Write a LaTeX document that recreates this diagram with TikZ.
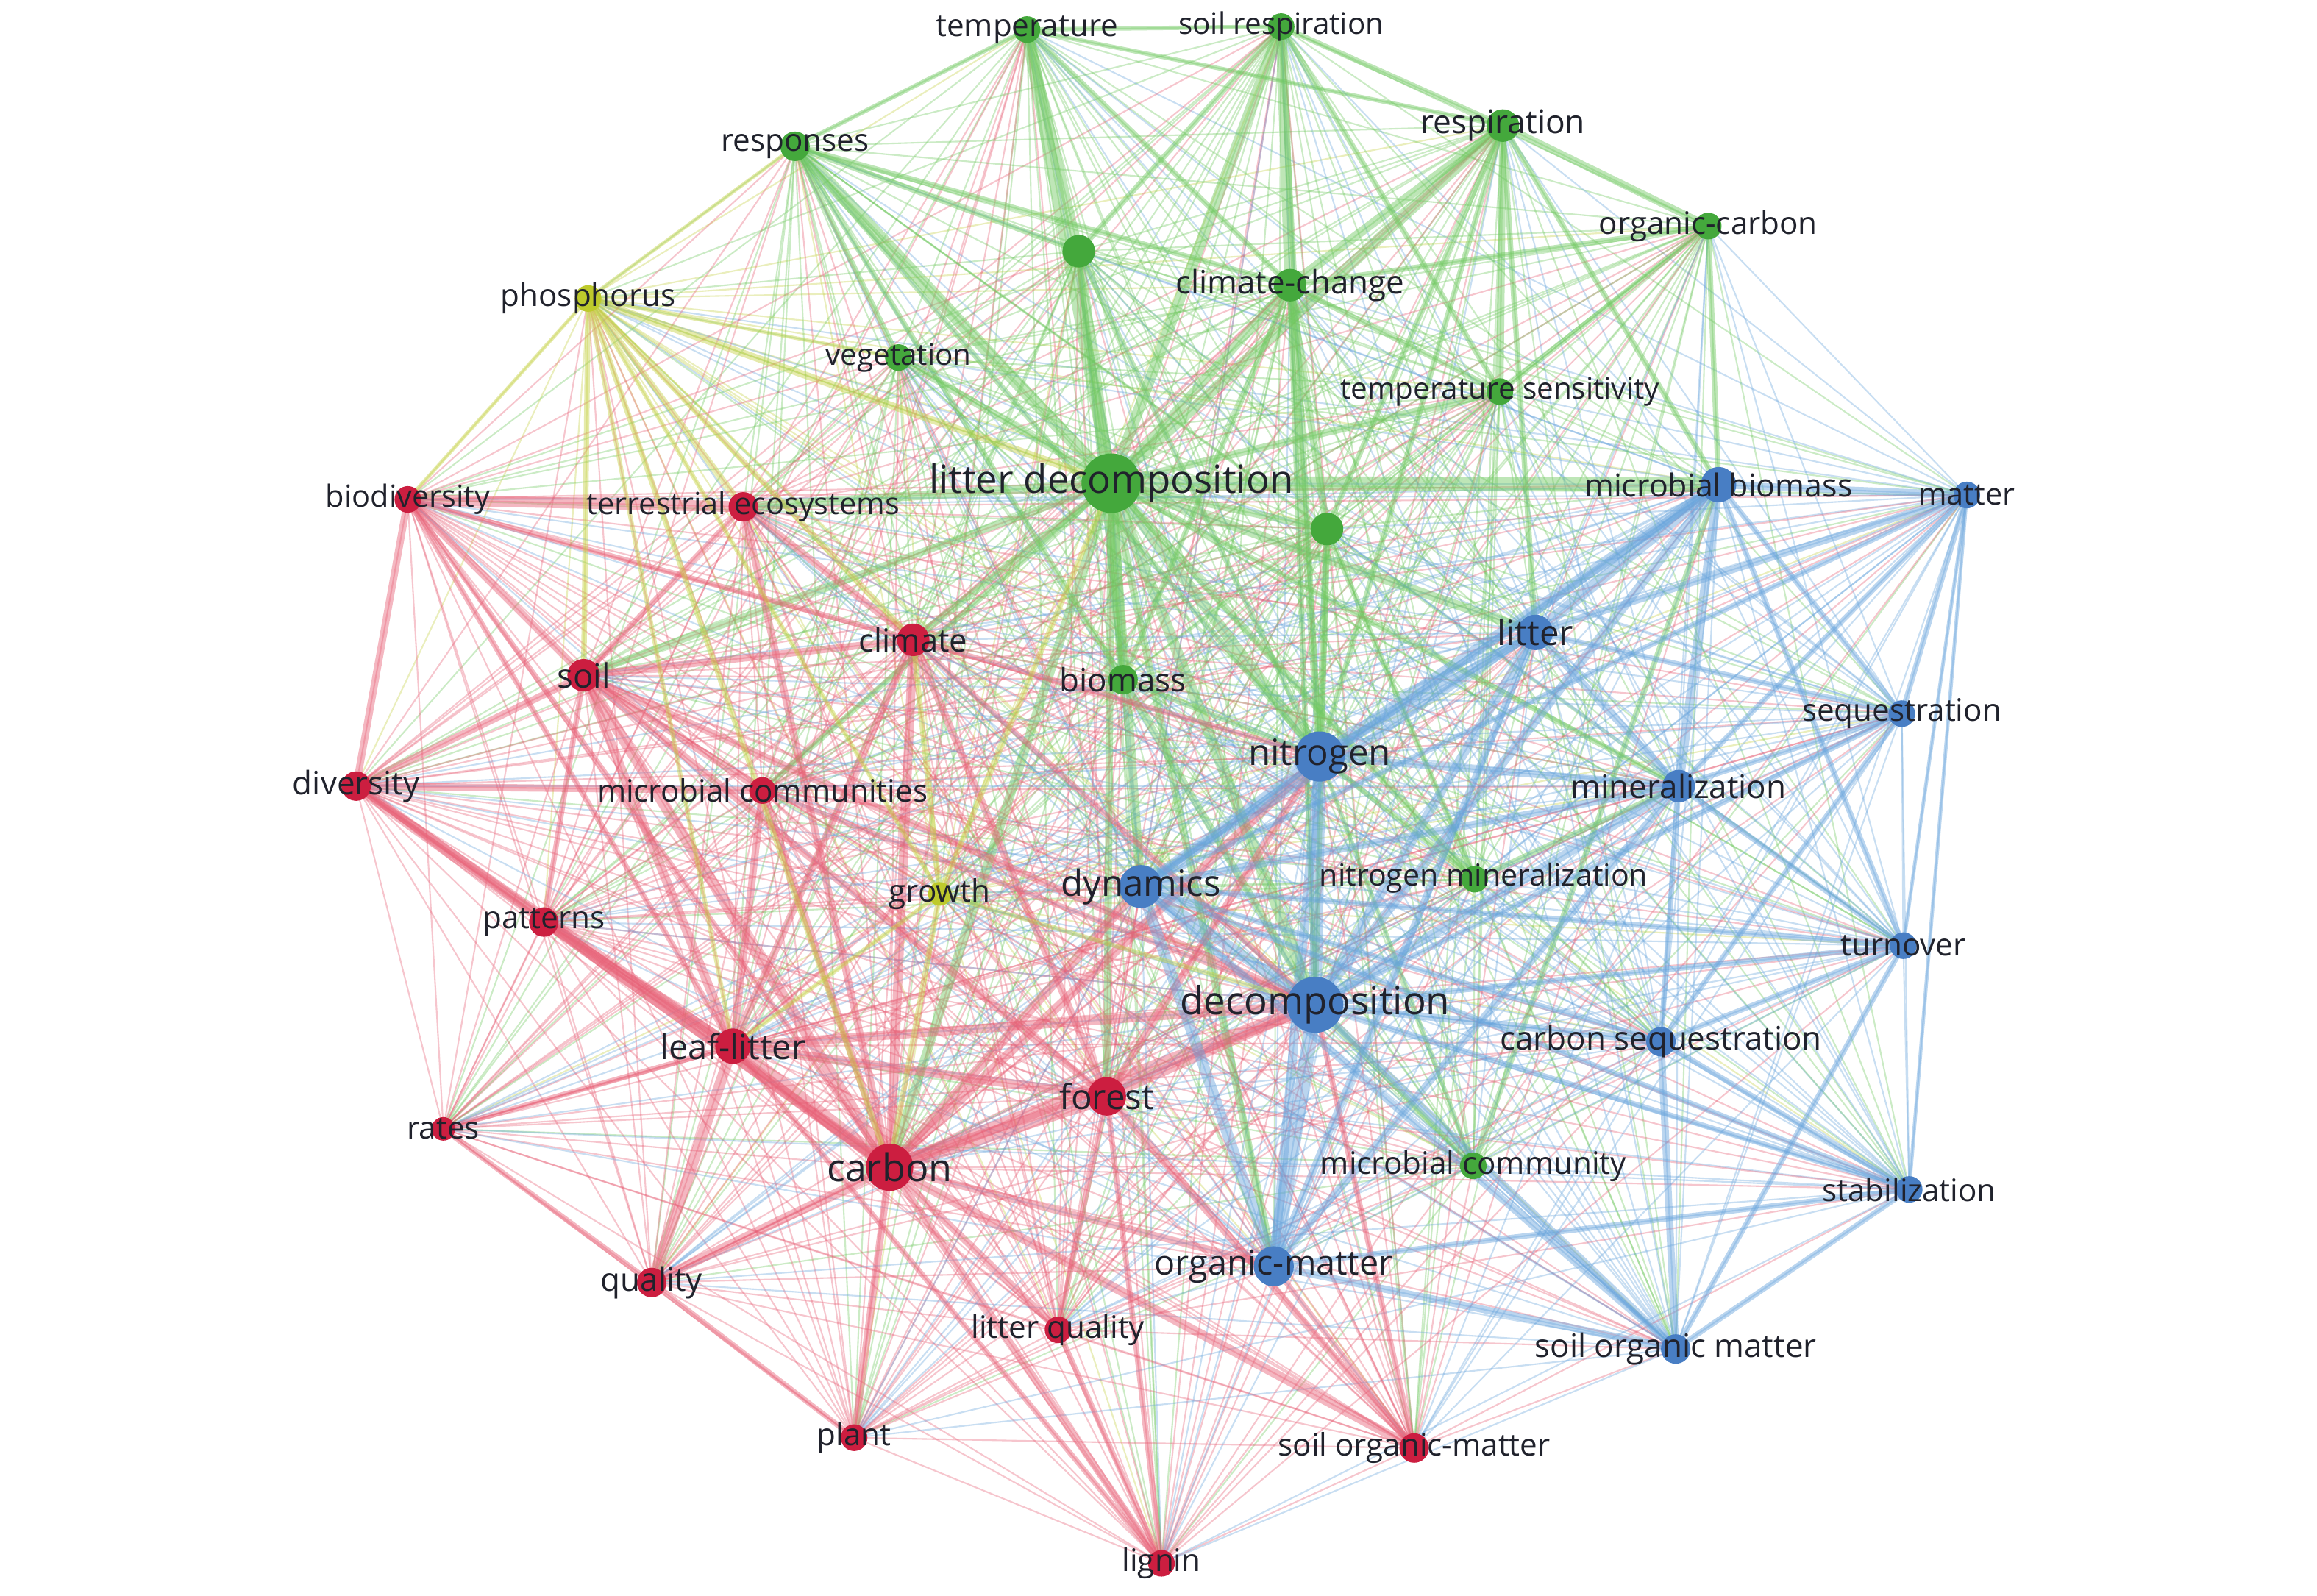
\documentclass[tikz,border=0pt]{standalone}
\usepackage{fontspec}
\setmainfont{Open Sans}
\pgfdeclarelayer{back}
\pgfdeclarelayer{edges}
\pgfsetlayers{back,edges,main}
\definecolor{gN}{RGB}{68,168,60}
\definecolor{gE}{RGB}{112,200,96}
\definecolor{rN}{RGB}{204,30,64}
\definecolor{rE}{RGB}{232,96,118}
\definecolor{bN}{RGB}{72,126,196}
\definecolor{bE}{RGB}{104,164,220}
\definecolor{yN}{RGB}{190,202,44}
\definecolor{yE}{RGB}{198,210,70}
\definecolor{txt}{RGB}{32,34,44}
\tikzset{
  kw/.style={circle, inner sep=0pt, fill=#1},
  lbl/.style={inner sep=0pt, text=txt, anchor=center},
  faint/.style={line width=0.6pt, opacity=0.36},
  strong/.style={opacity=0.45, line cap=round}
}
\newcommand\kwnode[7]{%
  \node[kw=#4, minimum size=#5pt] (#1) at (#2,#3) {};
  \node[lbl, font=\fontsize{#6}{#6}\selectfont] (#1-l) at (#1) {#7};}
\begin{document}
\begin{tikzpicture}[x=0.2009mm, y=-0.2009mm]
\useasboundingbox (0,0) rectangle (1568,1080);
\begin{pgfonlayer}{back}
\fill[white] (0,0) rectangle (1568,1080);
\end{pgfonlayer}
% ---- nodes ----
% green
\kwnode{temp}{695}{20}{gN}{10.3}{12}{temperature}
\kwnode{soilresp}{867}{18}{gN}{10.3}{11.5}{soil respiration}
\kwnode{resp}{1017}{85}{gN}{12.6}{12.6}{respiration}
\kwnode{respon}{538}{99}{gN}{11.4}{12}{responses}
\kwnode{orgc}{1156}{153}{gN}{10.3}{12}{organic-carbon}
\node[kw=gN, minimum size=12.6pt] (g1) at (730,170) {};
\kwnode{climch}{873}{193}{gN}{12.6}{12.5}{climate-change}
\kwnode{veg}{608}{242}{gN}{10.3}{11.5}{vegetation}
\kwnode{tempsens}{1015}{265}{gN}{10.3}{11.5}{temperature sensitivity}
\kwnode{litdec}{752}{327}{gN}{23}{15}{litter decomposition}
\node[kw=gN, minimum size=12.6pt] (g2) at (898,358) {};
\kwnode{biomass}{760}{460}{gN}{11.4}{12.5}{biomass}
\node[kw=gN, minimum size=10.3pt] (nmin) at (998,595) {};
\node[lbl, font=\fontsize{11.7}{11.7}\selectfont] (nmin-l) at (1004,594) {nitrogen mineralization};
\kwnode{mcy}{997}{789}{gN}{10.3}{12}{microbial community}
% yellow
\kwnode{phos}{398}{202}{yN}{10.3}{12}{phosphorus}
\kwnode{growth}{636}{605}{yN}{9.1}{12}{growth}
% red
\kwnode{biodiv}{276}{338}{rN}{10.3}{11.8}{biodiversity}
\kwnode{terr}{503}{343}{rN}{11.4}{11.8}{terrestrial ecosystems}
\kwnode{soil}{395}{457}{rN}{12.6}{13}{soil}
\kwnode{climate}{618}{433}{rN}{12.6}{12.4}{climate}
\kwnode{divers}{241}{532}{rN}{11.4}{12.5}{diversity}
\kwnode{microcomm}{516}{535}{rN}{10.3}{12}{microbial communities}
\kwnode{patterns}{368}{624}{rN}{11.4}{12}{patterns}
\kwnode{leaflit}{496}{708}{rN}{13.7}{13.4}{leaf-litter}
\kwnode{forest}{749}{742}{rN}{14.9}{13.5}{forest}
\kwnode{rates}{300}{764}{rN}{9.1}{12}{rates}
\kwnode{carbon}{602}{790}{rN}{18.3}{14.8}{carbon}
\kwnode{quality}{441}{868}{rN}{11.4}{12.5}{quality}
\kwnode{litqual}{716}{900}{rN}{10.3}{12}{litter quality}
\kwnode{plant}{578}{973}{rN}{10.3}{12}{plant}
\kwnode{som2}{957}{980}{rN}{11.4}{12}{soil organic-matter}
\kwnode{lignin}{786}{1058}{rN}{10.3}{12}{lignin}
% blue
\kwnode{mbio}{1163}{328}{bN}{13.7}{12.2}{microbial biomass}
\kwnode{matter}{1331}{335}{bN}{10.3}{11.8}{matter}
\kwnode{litter}{1039}{428}{bN}{13.7}{13.5}{litter}
\kwnode{seq}{1287}{483}{bN}{10.3}{12}{sequestration}
\kwnode{nitrogen}{893}{512}{bN}{19.4}{14}{nitrogen}
\kwnode{minz}{1136}{532}{bN}{12.6}{12.5}{mineralization}
\kwnode{dynamics}{772}{600}{bN}{16.6}{14}{dynamics}
\kwnode{turnover}{1288}{640}{bN}{10.3}{12}{turnover}
\kwnode{decomp}{890}{680}{bN}{21.7}{15}{decomposition}
\kwnode{cseq}{1124}{705}{bN}{11.4}{12.5}{carbon sequestration}
\kwnode{stab}{1292}{805}{bN}{10.3}{12}{stabilization}
\kwnode{orgm}{862}{857}{bN}{15.5}{13.3}{organic-matter}
\kwnode{som}{1134}{913}{bN}{11.4}{12.5}{soil organic matter}
% ---- connectors ----
\def\allnodes{phos/yE,growth/yE,temp/gE,soilresp/gE,resp/gE,respon/gE,orgc/gE,g1/gE,climch/gE,veg/gE,tempsens/gE,litdec/gE,g2/gE,biomass/gE,nmin/gE,mcy/gE,biodiv/rE,terr/rE,soil/rE,climate/rE,divers/rE,microcomm/rE,patterns/rE,leaflit/rE,forest/rE,rates/rE,carbon/rE,quality/rE,litqual/rE,plant/rE,som2/rE,lignin/rE,mbio/bE,matter/bE,litter/bE,seq/bE,nitrogen/bE,minz/bE,dynamics/bE,turnover/bE,decomp/bE,cseq/bE,stab/bE,orgm/bE,som/bE}
\begin{pgfonlayer}{edges}
\foreach \a/\ca [count=\i] in \allnodes {
  \foreach \b/\cb [count=\j] in \allnodes {
    \ifnum\j>\i
      \pgfmathtruncatemacro\pp{mod(\i+\j,2)}
      \ifnum\pp=0
        \draw[faint, draw=\ca] (\a.center) -- (\b.center);
      \else
        \draw[faint, draw=\cb] (\a.center) -- (\b.center);
      \fi
    \fi
  }
}
% strong links
\foreach \a/\b/\w/\c in {
litdec/temp/3.5/gE, litdec/soilresp/3/gE, litdec/resp/3/gE, litdec/respon/3.5/gE, litdec/climch/2.5/gE,
litdec/g1/2.5/gE, litdec/veg/2/gE, litdec/tempsens/2/gE, litdec/mbio/4/gE, litdec/nitrogen/3/gE,
litdec/decomp/3/gE, litdec/biomass/3/gE, litdec/dynamics/2.5/gE, litdec/litter/2.5/gE, litdec/climate/2/gE,
litdec/terr/2.5/gE, litdec/soil/2/gE, litdec/carbon/2.5/gE, litdec/forest/2/gE, litdec/g2/2/gE,
litdec/nmin/2/gE, litdec/microcomm/1.5/gE, litdec/orgm/2/gE, litdec/minz/1.5/gE,
temp/g1/2.5/gE, temp/climch/1.5/gE, temp/soilresp/1.2/gE, temp/respon/1.2/gE, temp/resp/1.2/gE,
soilresp/climch/3/gE, soilresp/resp/1.5/gE, soilresp/g1/1.5/gE, soilresp/tempsens/1.5/gE, soilresp/nitrogen/1.5/gE,
resp/climch/2.5/gE, resp/tempsens/2/gE, resp/orgc/2/gE, resp/g2/1.5/gE, resp/nitrogen/1.5/gE,
resp/mbio/1.5/gE, resp/litter/1.5/gE,
respon/climch/1.5/gE, respon/g1/1.5/gE, respon/veg/1.5/gE, respon/biomass/1.5/gE, respon/nitrogen/1.5/gE,
climch/g2/2/gE, climch/nitrogen/2/gE, climch/biomass/1.5/gE, climch/decomp/1.5/gE, climch/tempsens/1.5/gE,
orgc/tempsens/1.5/gE, orgc/mbio/1.5/gE, orgc/climch/1.5/gE,
g1/biomass/1.5/gE, g1/nitrogen/1.5/gE, g2/nitrogen/2/gE, g2/nmin/1.5/gE, g2/decomp/1.5/gE,
biomass/nitrogen/1.5/gE, biomass/decomp/2/gE, nmin/nitrogen/1.5/gE, nmin/minz/1.5/gE,
mcy/decomp/1.5/gE, mcy/mbio/1.5/gE, mcy/nitrogen/1.2/gE,
carbon/leaflit/4/rE, carbon/soil/3/rE, carbon/forest/4/rE, carbon/decomp/3.5/rE, carbon/patterns/2.5/rE,
carbon/divers/3/rE, carbon/quality/2.5/rE, carbon/lignin/2/rE, carbon/som2/2.5/rE, carbon/litqual/2/rE,
carbon/plant/2/rE, carbon/climate/2.5/rE, carbon/biodiv/1.5/rE, carbon/microcomm/2/rE, carbon/terr/2/rE,
carbon/dynamics/2.5/rE, carbon/nitrogen/2.5/rE, carbon/orgm/2/rE,
biodiv/terr/3/rE, biodiv/soil/2/rE, biodiv/divers/2/rE, biodiv/climate/1.5/rE, biodiv/leaflit/1.5/rE,
divers/soil/2/rE, divers/leaflit/2/rE, divers/patterns/1.5/rE, divers/microcomm/2/rE,
patterns/leaflit/2.5/rE, patterns/soil/1.5/rE,
soil/leaflit/2.5/rE, soil/microcomm/2/rE, soil/forest/2/rE, soil/climate/2/rE, soil/terr/1.5/rE, soil/decomp/2/rE,
leaflit/quality/3/rE, leaflit/forest/2.5/rE, leaflit/decomp/2.5/rE, leaflit/climate/2/rE, leaflit/rates/1.5/rE,
leaflit/microcomm/2/rE, forest/decomp/2.5/rE, forest/nitrogen/2/rE, forest/climate/2/rE, forest/som2/2/rE,
forest/lignin/1.5/rE, forest/litqual/1.5/rE, quality/plant/1.5/rE, quality/rates/1.5/rE,
som2/orgm/1.5/rE, som2/decomp/1.5/rE, lignin/litqual/1.5/rE, lignin/leaflit/1.5/rE,
terr/climate/2/rE, climate/decomp/1.5/rE, climate/nitrogen/1.5/rE, microcomm/decomp/1.5/rE,
decomp/nitrogen/3.5/bE, decomp/orgm/4/bE, decomp/dynamics/3/bE, decomp/litter/2.5/bE, decomp/mbio/2.5/bE,
decomp/minz/2.5/bE, decomp/cseq/2/bE, decomp/som/2/bE, decomp/stab/1.5/bE, decomp/turnover/1.5/bE, decomp/seq/1.5/bE,
nitrogen/mbio/3/bE, nitrogen/litter/2.5/bE, nitrogen/minz/2/bE, nitrogen/dynamics/2.5/bE, nitrogen/orgm/2.5/bE,
mbio/matter/2/bE, mbio/litter/3/bE, mbio/minz/2.5/bE, mbio/seq/1.5/bE, mbio/dynamics/2/bE, mbio/turnover/1.5/bE,
matter/litter/2/bE, matter/minz/1.5/bE, matter/seq/1.5/bE, matter/dynamics/1.5/bE, matter/turnover/1/bE, matter/stab/1/bE,
minz/seq/1.5/bE, minz/dynamics/2/bE, minz/litter/2/bE, minz/turnover/1.5/bE, minz/cseq/1.5/bE,
orgm/dynamics/3/bE, orgm/som/2/bE, orgm/stab/1.5/bE, orgm/litter/2/bE, orgm/minz/2/bE,
som/cseq/2/bE, som/stab/1.5/bE, som/turnover/1.5/bE, som/dynamics/2/bE,
cseq/dynamics/1.5/bE, cseq/seq/1.5/bE, cseq/stab/1.5/bE, cseq/turnover/1.5/bE,
litter/dynamics/2/bE, litter/seq/1.5/bE, dynamics/turnover/1.5/bE, dynamics/stab/1.5/bE,
phos/litdec/2/yE, phos/terr/1.5/yE, phos/soil/1.5/yE, phos/climate/1.5/yE, phos/biodiv/1/yE,
phos/respon/1/yE, phos/veg/1/yE, phos/growth/1.2/yE, phos/carbon/1.5/yE, phos/leaflit/1.2/yE,
growth/litdec/1.5/yE, growth/carbon/1.5/yE, growth/climate/1.5/yE, growth/leaflit/1.2/yE, growth/decomp/1.2/yE}
  \draw[strong, line width=1.4*\w pt, draw=\c] (\a.center) -- (\b.center);
\end{pgfonlayer}
\end{tikzpicture}
\end{document}
